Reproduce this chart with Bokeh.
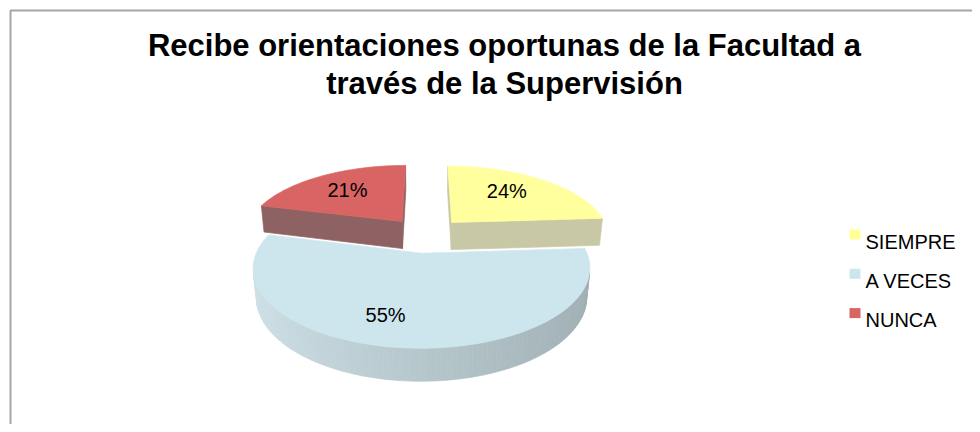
import math
import numpy as np
from bokeh.plotting import figure
from bokeh.models import Range1d, ColumnDataSource
from bokeh.embed import file_html
from bokeh.resources import INLINE
from bokeh.core.properties import value

# ---------------- data ----------------
title_lines = ["Recibe orientaciones oportunas de la Facultad a",
               "través de la Supervisión"]
categories = ["SIEMPRE", "A VECES", "NUNCA"]
percents = [24, 55, 21]

# ---------------- styles ----------------
top_colors = ["#FFFF9E", "#CDE6ED", "#D96464"]
cut_colors = ["#C9C8A6", "#A9BFC4", "#8E6262"]
side_light = [(236, 236, 172), (206, 225, 231), (200, 110, 110)]
side_dark = [(192, 192, 152), (158, 173, 177), (140, 90, 90)]
legend_colors = ["#FFFF99", "#CCE6EE", "#D96464"]
label_shift = [-5.0, 9.6, 0.0]      # degrees, label placement nudge
label_radius = [0.66, 0.72, 0.66]
FONT = "Liberation Sans"

W, HP = 972, 424
OFF = 0  # screenshot origin offset

# 3D projection parameters (page pixel coordinates)
CX, CY = 425.0, 234.4
KD = 790.0
DIST = 5.0
TILT = math.asin(0.4457)
S, C = math.sin(TILT), math.cos(TILT)
THICK = 0.2
EXPLODE = 0.25
cam = np.array([0.0, DIST * S, DIST * C])


def proj(X, Y, Z):
    yc = Y * C - Z * S
    dd = DIST - (Z * C + Y * S)
    return CX + KD * X / dd - OFF, CY - KD * yc / dd - OFF


def lerp(a, b, t):
    r, g, bl = (int(round(a[k] + (b[k] - a[k]) * t)) for k in range(3))
    return "#%02x%02x%02x" % (r, g, bl)


p = figure(width=W, height=HP, output_backend="svg", toolbar_location=None,
           x_range=Range1d(0, W), y_range=Range1d(HP, 0),
           x_axis_type=None, y_axis_type=None, min_border=0)
p.grid.visible = False
p.outline_line_color = None
p.background_fill_color = "white"
p.border_fill_color = "white"

# frame border (top and left edges visible)
p.line([10 - OFF] * 2 + [W + 5], [HP + 5, 10 - OFF, 10 - OFF],
       line_color="#A6A6A6", line_width=2)

# ---------------- build pie faces ----------------
total = float(sum(percents))
slices = []
acc = 0.0
for i, v in enumerate(percents):
    a0 = 360.0 * acc / total
    acc += v
    a1 = 360.0 * acc / total
    m = math.radians((a0 + a1) / 2)
    X0, Z0 = EXPLODE * math.sin(m), -EXPLODE * math.cos(m)
    slices.append((i, a0, a1, X0, Z0))

order = sorted(slices, key=lambda s: s[4])  # far first

fx, fy, fc = [], [], []
lab_x, lab_y, lab_t = [], [], []

for (i, a0, a1, X0, Z0) in order:
    n = max(int((a1 - a0) / 1.5), 4)
    th = np.radians(np.linspace(a0, a1, n + 1))
    ax = X0 + np.sin(th)
    az = Z0 - np.cos(th)
    faces = []
    for j in range(n):
        tm = (th[j] + th[j + 1]) / 2
        nrm = np.array([math.sin(tm), 0.0, -math.cos(tm)])
        P = np.array([(ax[j] + ax[j + 1]) / 2, -THICK / 2, (az[j] + az[j + 1]) / 2])
        if nrm @ (cam - P) > 0:
            pts = [(ax[j], 0, az[j]), (ax[j + 1], 0, az[j + 1]),
                   (ax[j + 1], -THICK, az[j + 1]), (ax[j], -THICK, az[j])]
            t = (1 + math.sin(tm)) / 2
            faces.append((np.linalg.norm(cam - P), pts, lerp(side_light[i], side_dark[i], t)))
    for ang, sign in ((a0, -1.0), (a1, 1.0)):
        r = math.radians(ang)
        nrm = sign * np.array([math.cos(r), 0.0, math.sin(r)])
        ex, ez = X0 + math.sin(r), Z0 - math.cos(r)
        P = np.array([(X0 + ex) / 2, -THICK / 2, (Z0 + ez) / 2])
        if nrm @ (cam - P) > 0:
            pts = [(X0, 0, Z0), (ex, 0, ez), (ex, -THICK, ez), (X0, -THICK, Z0)]
            faces.append((np.linalg.norm(cam - P), pts, cut_colors[i]))
    faces.sort(key=lambda f: -f[0])
    for _, pts, col in faces:
        xy = [proj(*q) for q in pts]
        fx.append([q[0] for q in xy])
        fy.append([q[1] for q in xy])
        fc.append(col)
    # top face
    top = [proj(X0, 0, Z0)] + [proj(ax[k], 0, az[k]) for k in range(n + 1)]
    fx.append([q[0] for q in top])
    fy.append([q[1] for q in top])
    fc.append(top_colors[i])
    # label
    la = math.radians((a0 + a1) / 2 + label_shift[i])
    lx, ly = proj(X0 + label_radius[i] * math.sin(la), 0, Z0 - label_radius[i] * math.cos(la))
    lab_x.append(lx)
    lab_y.append(ly)
    lab_t.append(f"{percents[i]}%")

src = ColumnDataSource(dict(xs=fx, ys=fy, c=fc))
p.patches("xs", "ys", source=src, fill_color="c", line_color="c", line_width=0.7)

p.text(x=lab_x, y=lab_y, text=lab_t, text_font=value(FONT), text_font_size="20px",
       text_align="center", text_baseline="middle", text_color="#000000")

# ---------------- title ----------------
p.text(x=[504 - OFF] * 2, y=[45 - OFF, 83 - OFF], text=title_lines, text_font=value(FONT),
       text_font_size="31px", text_font_style="bold", text_align="center",
       text_baseline="alphabetic", text_color="#000000")

# ---------------- legend ----------------
leg_y0, leg_dy = 234.0 - OFF, 39.3
ly_c = [leg_y0 + leg_dy * k for k in range(len(categories))]
p.rect(x=[854.5 - OFF] * len(categories), y=ly_c, width=11, height=10,
       fill_color=legend_colors, line_color=None)
p.text(x=[865 - OFF] * len(categories), y=[y + 7 for y in ly_c], text=categories,
       text_font=value(FONT), text_font_size="20px", text_align="left",
       text_baseline="alphabetic", text_color="#000000")

open("out.html", "w").write(file_html(p, INLINE, title="chart"))
